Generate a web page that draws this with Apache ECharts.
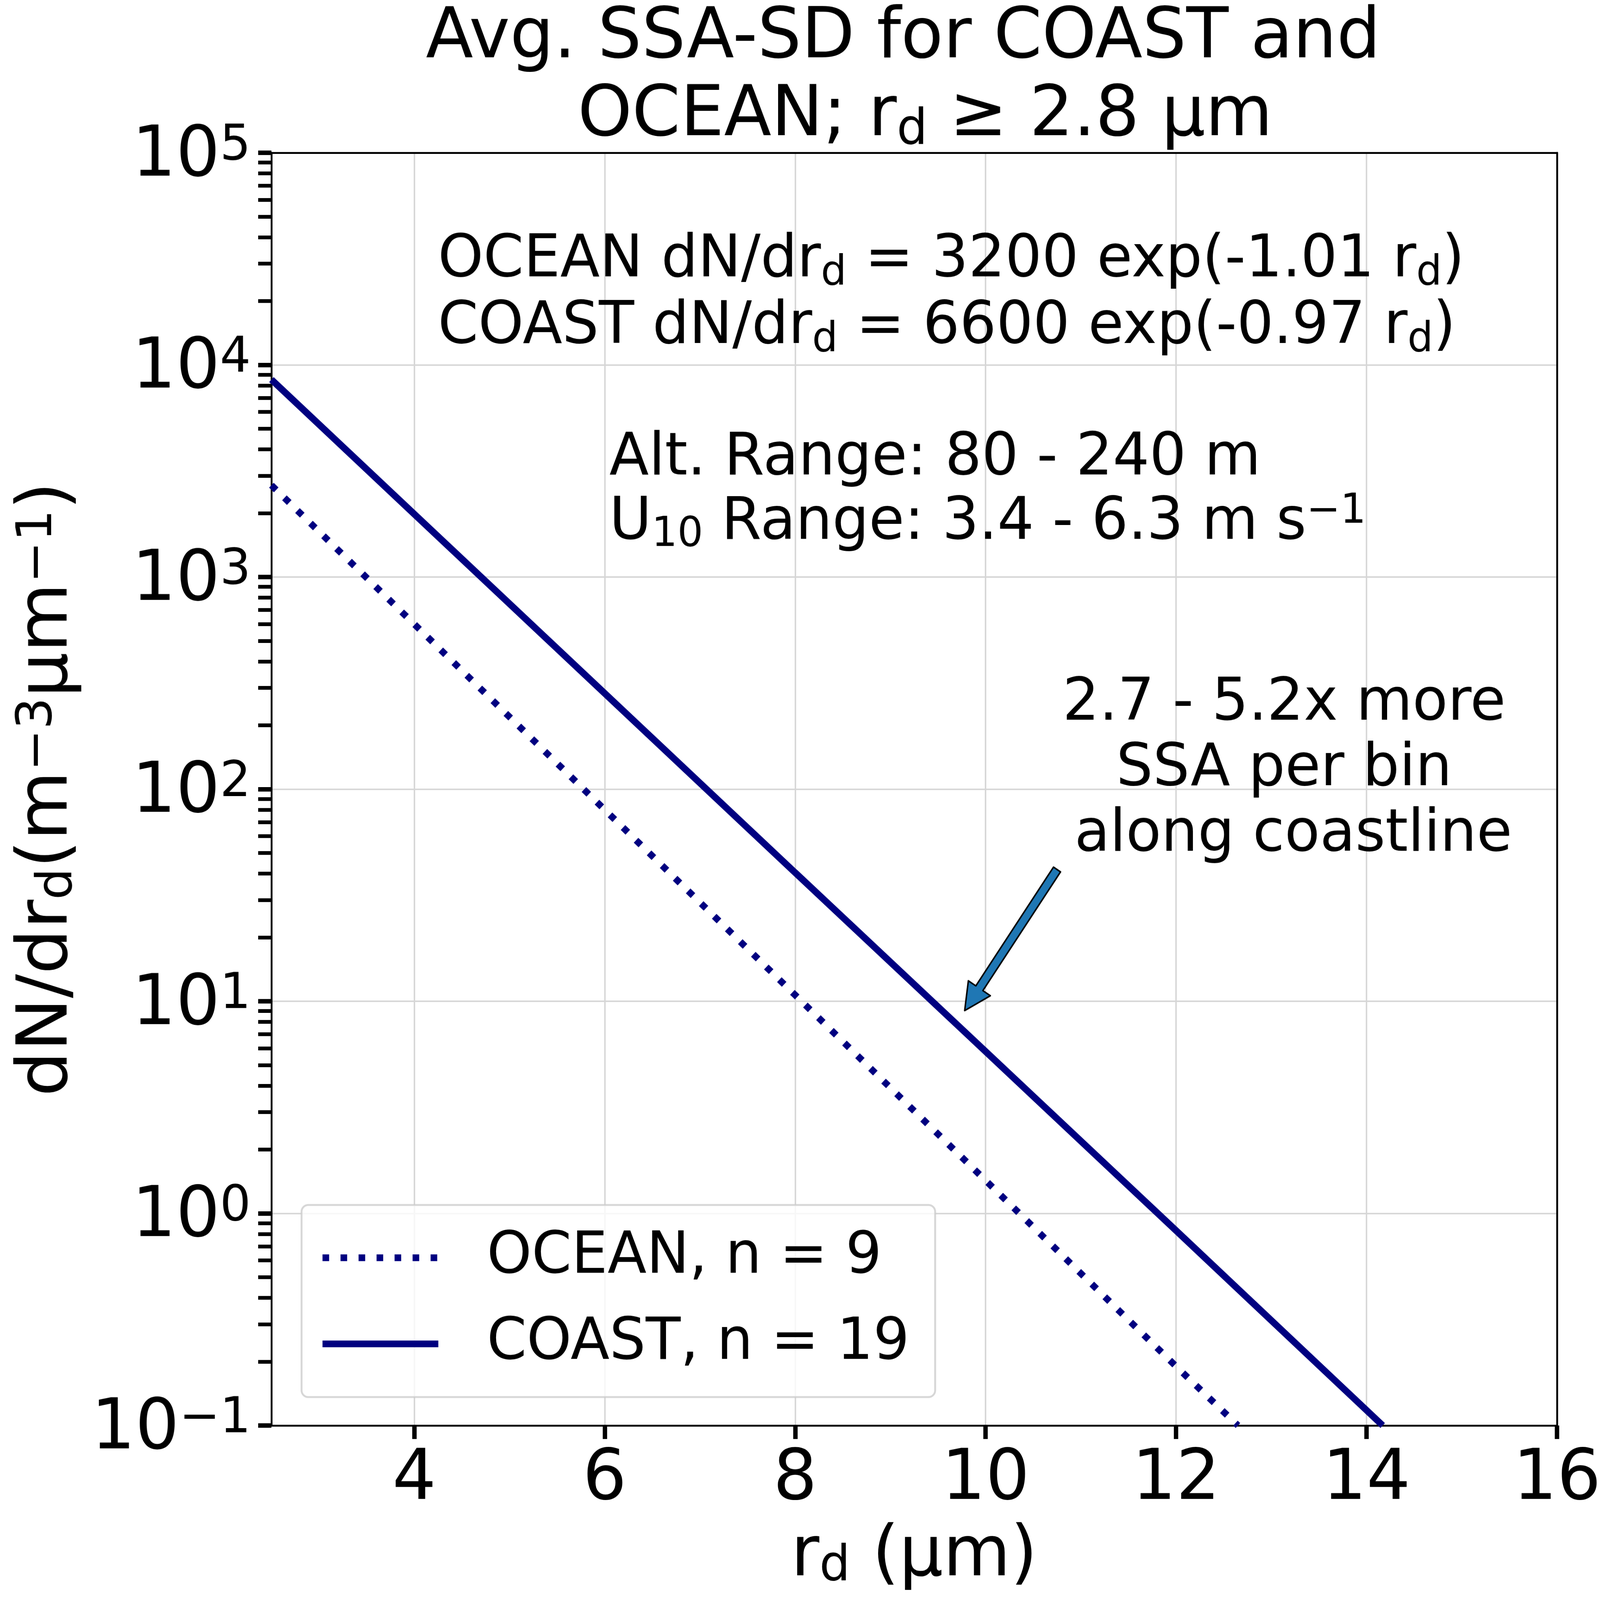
<!DOCTYPE html>
<html>
<head>
<meta charset="utf-8">
<script src="https://cdn.jsdelivr.net/npm/echarts@6/dist/echarts.min.js"></script>
<style>
html,body{margin:0;padding:0;background:#fff;overflow:hidden;}
#chart{width:4351px;height:4273px;transform-origin:0 0;}
</style>
</head>
<body>
<div id="chart"></div>
<script>
// ---- data ----
const rdCoast = [2.5, 4, 6, 8, 10, 12, 14.17];
const coastValues = [8530, 1980, 283, 40.4, 5.8, 0.83, 0.1];
const rdOcean = [2.5, 4, 6, 8, 10, 12, 12.65];
const oceanValues = [2710, 600, 80, 10.7, 1.43, 0.19, 0.1];
const seriesNames = ['OCEAN, n = 9', 'COAST, n = 19'];
const xTickValues = [4, 6, 8, 10, 12, 14, 16];
const yTickValues = [0.1, 1, 10, 100, 1000, 10000, 100000];
const arrowTail = [10.75, 41.8];
const arrowHead = [9.78, 9.03];

const yMinorTicks = [];
for (let e = -1; e < 5; e++) {
  for (let m = 2; m <= 9; m++) yMinorTicks.push(m * Math.pow(10, e));
}

// fit the 4351x4273 design to whatever window the page is opened in
const DESIGN_W = 4351, DESIGN_H = 4273;
const el = document.getElementById('chart');
const sx = (window.innerWidth || DESIGN_W) / DESIGN_W;
const sy = (window.innerHeight || DESIGN_H) / DESIGN_H;
el.style.transform = 'scale(' + sx + ',' + sy + ')';

const FONT = 'DejaVu Sans';
const chart = echarts.init(el, null, {renderer: 'canvas', width: DESIGN_W, height: DESIGN_H});

const supRich = {
  b: {fontSize: 188, lineHeight: 188, fontFamily: FONT, color: '#000'},
  s: {fontSize: 132, lineHeight: 76, verticalAlign: 'top', fontFamily: FONT, color: '#000'}
};

const option = {
  backgroundColor: '#fff',
  animation: false,
  title: {
    text: 'Avg. SSA-SD for COAST and \n OCEAN; r{sub|d} ≥ 2.8 μm',
    left: 2486,
    top: 0,
    padding: 0,
    textAlign: 'center',
    textStyle: {
      fontFamily: FONT, fontSize: 188, lineHeight: 208, fontWeight: 'normal', color: '#000',
      rich: {
        sub: {fontFamily: FONT, fontSize: 132, lineHeight: 122, verticalAlign: 'bottom', color: '#000'}
      }
    }
  },
  grid: {left: 738, right: 117, top: 408, bottom: 466, outerBoundsMode: 'none', containLabel: false},
  legend: {
    orient: 'vertical',
    left: 820,
    top: 3218,
    data: seriesNames,
    itemWidth: 315,
    itemHeight: 18,
    itemGap: 40,
    padding: [46, 70, 47, 48],
    backgroundColor: 'rgba(255,255,255,0.8)',
    borderColor: 'rgba(204,204,204,0.8)',
    borderWidth: 5,
    borderRadius: 18,
    lineStyle: {width: 18},
    textStyle: {fontFamily: FONT, fontSize: 155, lineHeight: 190, color: '#000', padding: [0, 0, 0, 127]}
  },
  xAxis: [{
    type: 'value',
    min: 2.5,
    max: 16,
    position: 'bottom',
    name: 'r{sub|d} (μm)',
    nameLocation: 'middle',
    nameGap: 257,
    nameTextStyle: {
      fontFamily: FONT, fontSize: 188, lineHeight: 188, color: '#000',
      rich: {sub: {fontFamily: FONT, fontSize: 132, lineHeight: 96, verticalAlign: 'bottom', color: '#000'}}
    },
    axisLine: {show: true, lineStyle: {color: '#000', width: 5}},
    axisTick: {show: true, customValues: xTickValues, length: 36, inside: false, lineStyle: {color: '#000', width: 12}},
    axisLabel: {show: true, customValues: xTickValues, margin: 53, fontFamily: FONT, fontSize: 188, lineHeight: 188, color: '#000'},
    splitLine: {show: true, lineStyle: {color: '#d6d6d6', width: 4}}
  }, {
    type: 'value',
    min: 2.5,
    max: 16,
    position: 'top',
    axisLine: {show: true, lineStyle: {color: '#000', width: 5}},
    axisTick: {show: false},
    axisLabel: {show: false},
    splitLine: {show: false}
  }],
  yAxis: [{
    type: 'log',
    logBase: 10,
    min: 0.1,
    max: 100000,
    position: 'left',
    name: 'dN/dr{sub|d}(m{sup|−3}μm{sup|−1})',
    nameLocation: 'middle',
    nameRotate: 90,
    nameGap: 512,
    nameTextStyle: {
      fontFamily: FONT, fontSize: 190, lineHeight: 188, color: '#000',
      rich: {
        sub: {fontFamily: FONT, fontSize: 133, lineHeight: 96, verticalAlign: 'bottom', color: '#000'},
        sup: {fontFamily: FONT, fontSize: 133, lineHeight: 76, verticalAlign: 'top', color: '#000'}
      }
    },
    axisLine: {show: true, lineStyle: {color: '#000', width: 5}},
    axisTick: {show: true, customValues: yTickValues, length: 36, inside: false, lineStyle: {color: '#000', width: 12}},
    axisLabel: {
      show: true,
      customValues: yTickValues,
      margin: 56,
      padding: [24, 0, 0, 0],
      formatter: function (v) {
        const e = Math.round(Math.log10(v));
        const es = e < 0 ? '\u2212' + (-e) : String(e);
        return '{b|10}{s|' + es + '}';
      },
      rich: supRich
    },
    splitLine: {show: true, lineStyle: {color: '#d6d6d6', width: 4}}
  }, {
    type: 'log',
    logBase: 10,
    min: 0.1,
    max: 100000,
    position: 'left',
    axisLine: {show: false},
    axisTick: {show: true, customValues: yMinorTicks, length: 36, inside: false, lineStyle: {color: '#000', width: 10}},
    axisLabel: {show: false},
    splitLine: {show: false}
  }, {
    type: 'log',
    logBase: 10,
    min: 0.1,
    max: 100000,
    position: 'right',
    axisLine: {show: true, lineStyle: {color: '#000', width: 5}},
    axisTick: {show: false},
    axisLabel: {show: false},
    splitLine: {show: false}
  }],
  graphic: [
    {
      type: 'text', x: 1191, y: 608, z: 10,
      style: {
        text: 'OCEAN dN/dr{sub|d} = 3200 exp(-1.01 r{sub|d})\nCOAST dN/dr{sub|d} = 6600 exp(-0.97 r{sub|d})',
        fontFamily: FONT, fontSize: 157, lineHeight: 178, fill: '#000',
        align: 'left', verticalAlign: 'top',
        rich: {sub: {fontFamily: FONT, fontSize: 110, lineHeight: 106, verticalAlign: 'bottom', fill: '#000'}}
      }
    },
    {
      type: 'text', x: 1657, y: 1140, z: 10,
      style: {
        text: 'Alt. Range: 80 - 240 m\nU{sub|10} Range: 3.4 - 6.3 m s{sup|−1}',
        fontFamily: FONT, fontSize: 157, lineHeight: 172, fill: '#000',
        align: 'left', verticalAlign: 'top',
        rich: {
          sub: {fontFamily: FONT, fontSize: 110, lineHeight: 96, verticalAlign: 'bottom', fill: '#000'},
          sup: {fontFamily: FONT, fontSize: 110, lineHeight: 78, verticalAlign: 'top', fill: '#000'}
        }
      }
    },
    {
      type: 'text', x: 3517, y: 1794, z: 10,
      style: {
        text: '2.7 - 5.2x more \nSSA per bin \nalong coastline',
        fontFamily: FONT, fontSize: 157, lineHeight: 175, fill: '#000',
        align: 'center', verticalAlign: 'top'
      }
    }
  ],
  series: [
    {
      name: seriesNames[0],
      type: 'line',
      xAxisIndex: 0, yAxisIndex: 0,
      data: rdOcean.map((x, i) => [x, oceanValues[i]]),
      showSymbol: false,
      symbol: 'none',
      lineStyle: {color: '#000080', width: 18, type: [18, 31], cap: 'butt'},
      itemStyle: {color: '#000080'},
      z: 3
    },
    {
      name: seriesNames[1],
      type: 'line',
      xAxisIndex: 0, yAxisIndex: 0,
      data: rdCoast.map((x, i) => [x, coastValues[i]]),
      showSymbol: false,
      symbol: 'none',
      lineStyle: {color: '#000080', width: 18, type: 'solid', cap: 'butt'},
      itemStyle: {color: '#000080'},
      z: 3
    },
    {
      type: 'custom',
      xAxisIndex: 0, yAxisIndex: 0,
      silent: true,
      clip: false,
      z: 6,
      data: [[arrowTail[0], arrowTail[1], arrowHead[0], arrowHead[1]]],
      renderItem: function (params, api) {
        const p0 = api.coord([api.value(0), api.value(1)]);
        const p1 = api.coord([api.value(2), api.value(3)]);
        const dx = p1[0] - p0[0], dy = p1[1] - p0[1];
        const len = Math.hypot(dx, dy);
        const ux = dx / len, uy = dy / len;
        const nx = -uy, ny = ux;
        const sw = 11.5, hw = 36, hl = 72;
        const bx = p1[0] - ux * hl, by = p1[1] - uy * hl;
        const pts = [
          [p0[0] + nx * sw, p0[1] + ny * sw],
          [bx + nx * sw, by + ny * sw],
          [bx + nx * hw, by + ny * hw],
          [p1[0], p1[1]],
          [bx - nx * hw, by - ny * hw],
          [bx - nx * sw, by - ny * sw],
          [p0[0] - nx * sw, p0[1] - ny * sw]
        ];
        return {
          type: 'polygon',
          shape: {points: pts},
          style: {fill: '#1f77b4', stroke: '#000', lineWidth: 4, lineJoin: 'round'}
        };
      }
    }
  ]
};
chart.setOption(option);
</script>
</body>
</html>
